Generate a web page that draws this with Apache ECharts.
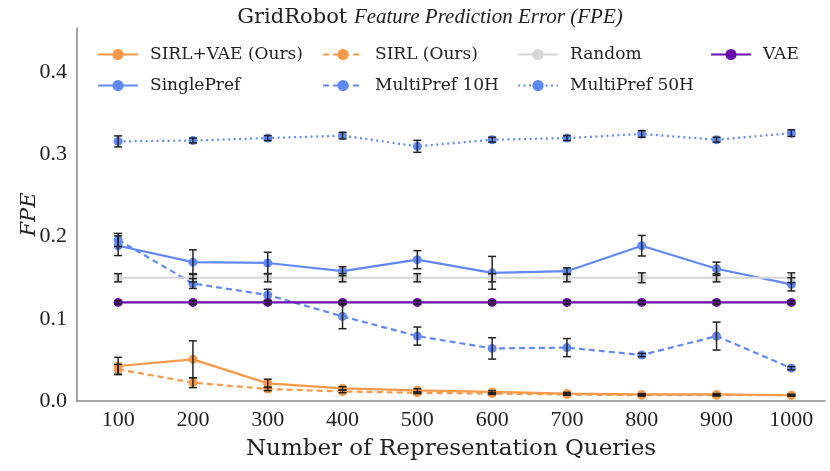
<!DOCTYPE html>
<html><head><meta charset="utf-8">
<script src="https://cdn.jsdelivr.net/npm/echarts@6/dist/echarts.min.js"></script>
<style>html,body{margin:0;padding:0;background:#fff}#c{width:830px;height:471px}</style>
</head><body><div id="c"></div>
<script>
const queries = [100,200,300,400,500,600,700,800,900,1000];
const sirlVae      = [0.0426,0.0507,0.0215,0.0154,0.0130,0.0110,0.0090,0.0080,0.0080,0.0070];
const sirlVaeErr   = [0.0105,0.0225,0.0050,0.0020,0.0020,0.0015,0.0015,0.0010,0.0010,0.0010];
const sirl         = [0.0386,0.0223,0.0146,0.0116,0.0100,0.0090,0.0080,0.0070,0.0070,0.0070];
const sirlErr      = [0.0060,0.0060,0.0020,0.0015,0.0010,0.0010,0.0010,0.0010,0.0010,0.0010];
const random       = [0.150,0.150,0.150,0.150,0.150,0.150,0.150,0.150,0.150,0.150];
const randomErr    = [0.005,0.005,0.005,0.005,0.005,0.005,0.005,0.006,0.005,0.006];
const vae          = [0.120,0.120,0.120,0.120,0.120,0.120,0.120,0.120,0.120,0.120];
const vaeErr       = [0.002,0.002,0.002,0.002,0.002,0.002,0.002,0.002,0.002,0.002];
const singlePref   = [0.189,0.169,0.168,0.158,0.172,0.156,0.158,0.189,0.161,0.142];
const singleErr    = [0.012,0.015,0.013,0.0055,0.011,0.020,0.004,0.0125,0.008,0.008];
const multi10      = [0.196,0.143,0.129,0.103,0.079,0.064,0.065,0.056,0.079,0.040];
const multi10Err   = [0.008,0.006,0.007,0.015,0.011,0.013,0.011,0.002,0.017,0.002];
const multi50      = [0.316,0.317,0.320,0.323,0.310,0.318,0.320,0.325,0.318,0.326];
const multi50Err   = [0.0067,0.003,0.003,0.004,0.0073,0.003,0.003,0.004,0.003,0.004];
const yTicks = [0,0.1,0.2,0.3,0.4];

const FONT = 'DejaVu Serif';
const NUMFONT = 'Liberation Serif';
const ORANGE = '#F7994A', BLUE = '#6189F5', GRAY = '#D6D6D6', PURPLE = '#6A0DAD';

function pts(v){ return queries.map((q,i)=>[q, v[i]]); }
function errPts(v,e){ return queries.map((q,i)=>[q, v[i], e[i]]); }

function lineSeries(name, vals, color, type, z){
  return {
    name, type:'line', data: pts(vals), z,
    symbol:'circle', symbolSize:9, showSymbol:true,
    lineStyle:{color, width:2.2, type},
    itemStyle:{color},
    emphasis:{disabled:true}, animation:false
  };
}
function errSeries(name, vals, errs, z){
  return {
    name, type:'custom', z, animation:false, silent:true,
    data: errPts(vals, errs),
    encode:{x:0, y:1},
    renderItem(params, api){
      const x = api.value(0), y = api.value(1), e = api.value(2);
      const lo = api.coord([x, y - e]), hi = api.coord([x, y + e]);
      const w = 4;
      const st = {stroke:'#222', lineWidth:1.5, fill:null};
      return {type:'group', children:[
        {type:'line', shape:{x1:lo[0],y1:lo[1],x2:hi[0],y2:hi[1]}, style:st},
        {type:'line', shape:{x1:lo[0]-w,y1:lo[1],x2:lo[0]+w,y2:lo[1]}, style:st},
        {type:'line', shape:{x1:hi[0]-w,y1:hi[1],x2:hi[0]+w,y2:hi[1]}, style:st}
      ]};
    }
  };
}

function legendCol(names, left){
  return {
    data: names, left, top: 41, orient:'vertical', itemGap: 14,
    itemWidth: 40, itemHeight: 14,
    textStyle:{fontFamily:FONT, fontSize:17, color:'#222', padding:[0,0,0,7]},
    selectedMode:false
  };
}

const chart = echarts.init(document.getElementById('c'), null, {renderer:'canvas'});
chart.setOption({
  animation:false,
  backgroundColor:'#fff',
  title:{
    text:'{a|GridRobot }{b|Feature Prediction Error (FPE)}',
    left: 425, top: 2, textAlign:'center',
    textStyle:{fontWeight:'normal', rich:{
      a:{fontFamily:FONT, fontSize:21, fontWeight:'normal', color:'#222'},
      b:{fontFamily:NUMFONT, fontSize:21, fontWeight:'normal', fontStyle:'italic', color:'#222'}
    }}
  },
  legend:[
    legendCol(['SIRL+VAE (Ours)','SinglePref'], 92),
    legendCol(['SIRL (Ours)','MultiPref 10H'], 317),
    legendCol(['Random','MultiPref 50H'], 512),
    legendCol(['VAE'], 705)
  ],
  grid:{left:77, right:5, top:28, bottom:70, containLabel:false},
  xAxis:{
    type:'value', min:45, max:1045,
    name:'Number of Representation Queries', nameLocation:'middle', nameGap:37,
    nameMoveOverlap:false,
    nameTextStyle:{fontFamily:FONT, fontSize:23, color:'#222'},
    axisLine:{show:true, lineStyle:{color:'#8a8a8a', width:1.5}},
    axisTick:{show:false},
    splitLine:{show:false},
    axisLabel:{customValues:queries, formatter:v=>String(v), fontFamily:NUMFONT, fontSize:22, color:'#222', margin:8}
  },
  yAxis:{
    type:'value', min:0, max:0.454,
    name:'FPE', nameLocation:'middle', nameGap:37, nameRotate:90,
    nameMoveOverlap:false,
    nameTextStyle:{fontFamily:FONT, fontSize:21, fontStyle:'italic', color:'#222'},
    axisLine:{show:true, lineStyle:{color:'#8a8a8a', width:1.5}},
    axisTick:{show:false},
    splitLine:{show:false},
    axisLabel:{customValues:yTicks, formatter:v=>v.toFixed(1), fontFamily:NUMFONT, fontSize:22, color:'#222', margin:10}
  },
  series:[
    lineSeries('SIRL+VAE (Ours)', sirlVae, ORANGE, 'solid', 2),
    errSeries('e1', sirlVae, sirlVaeErr, 3),
    lineSeries('SinglePref', singlePref, BLUE, 'solid', 2),
    errSeries('e2', singlePref, singleErr, 3),
    lineSeries('SIRL (Ours)', sirl, ORANGE, [6,4], 2),
    errSeries('e3', sirl, sirlErr, 3),
    lineSeries('MultiPref 10H', multi10, BLUE, [6,4], 2),
    errSeries('e4', multi10, multi10Err, 3),
    lineSeries('Random', random, GRAY, 'solid', 2),
    errSeries('e5', random, randomErr, 3),
    lineSeries('MultiPref 50H', multi50, BLUE, [2,3.5], 2),
    errSeries('e6', multi50, multi50Err, 3),
    lineSeries('VAE', vae, PURPLE, 'solid', 2),
    errSeries('e7', vae, vaeErr, 3)
  ]
});
</script></body></html>
